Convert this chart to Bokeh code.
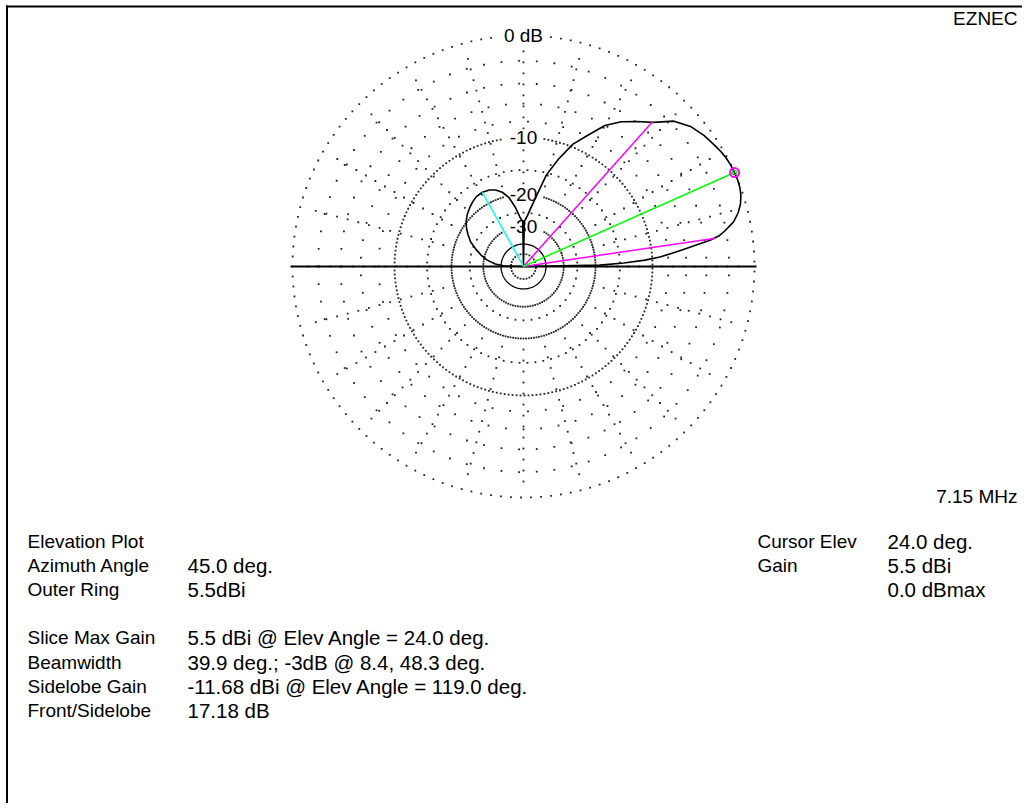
import numpy as np
from bokeh.plotting import figure
from bokeh.models import Range1d, ColumnDataSource
from bokeh.core.properties import value
from bokeh.embed import file_html
from bokeh.resources import INLINE

# ---------------- data ----------------
elev_deg = [0, 1, 2, 3, 4, 5, 6, 7, 8, 9, 10, 12, 14, 16, 18, 20, 22, 24, 26, 28,
            30, 32, 36, 40, 44, 48, 52, 56, 60, 64, 68, 72, 76, 80, 84, 86, 88, 89,
            90, 91, 92, 94, 98, 102, 106, 110, 114, 119, 124, 128, 132, 137, 142,
            146, 150, 155, 160, 165, 170, 175, 178, 180]
gain_rel_db = [-99, -19, -14.3, -11, -9, -7.6, -6.3, -5.0, -3.5, -2.6, -2.1, -1.25,
               -0.75, -0.4, -0.18, -0.05, 0, 0, -0.02, -0.08, -0.18, -0.32, -0.6,
               -1.0, -1.7, -3.0, -3.9, -4.8, -6.0, -7.9, -9.6, -12.3, -15.4, -20.5,
               -24.5, -26.3, -27.5, -28.0, -99, -28.0, -27.6, -26.5, -23.1, -20.3,
               -18.8, -17.9, -17.4, -17.18, -17.3, -17.7, -18.2, -18.9, -19.8,
               -20.8, -22.0, -23.6, -26.0, -28.5, -31.5, -36, -42, -99]
outer_ring_dbi = 5.5
gain_dbi = [g + outer_ring_dbi for g in gain_rel_db]

cursor_elev = 24.0
beam_edges = [8.4, 48.3]
sidelobe_elev = 119.0
sidelobe_dbi = -11.68

ring_db_major = [0, -10, -20, -30]
ring_db_minor = [-2, -4, -6, -8, -15, -25]
ring_db_solid = [-40]
ring_db_inner = [-50]
ring_label_text = ["0 dB", "-10", "-20", "-30"]
radial_step_deg = 15

left_labels = ["Elevation Plot", "Azimuth Angle", "Outer Ring", "", "Slice Max Gain",
               "Beamwidth", "Sidelobe Gain", "Front/Sidelobe"]
left_values = ["", "45.0 deg.", "5.5dBi", "", "5.5 dBi @ Elev Angle = 24.0 deg.",
               "39.9 deg.; -3dB @ 8.4, 48.3 deg.",
               "-11.68 dBi @ Elev Angle = 119.0 deg.", "17.18 dB"]
right_labels = ["Cursor Elev", "Gain", ""]
right_values = ["24.0 deg.", "5.5 dBi", "0.0 dBmax"]
freq_text = "7.15 MHz"
brand_text = "EZNEC"

# ---------------- layout / style ----------------
FONT = "Liberation Sans"
FS = "19px"
FS_VAL = "20.5px"
W, H = 1022, 803
CX, CY, R = 523, 266, 231


def dx(xpix):
    return (xpix - CX) / R


def dy(ypix):
    return (CY - ypix) / R


def rad(db):
    return 0.89 ** (-db / 2.0)


p = figure(width=W, height=H,
           x_range=Range1d(dx(0), dx(W)),
           y_range=Range1d(dy(H), dy(0)),
           output_backend="svg", toolbar_location=None,
           x_axis_location=None, y_axis_location=None, min_border=0)
p.grid.visible = False
p.outline_line_color = None
p.background_fill_color = "white"
p.border_fill_color = "white"

# label boxes (to clear dots behind ring labels)
label_boxes = []
for db, txt in zip(ring_db_major, ring_label_text):
    hw = (0.3 * 19 * len(txt) + 3) / R
    hh = 9 / R
    label_boxes.append((0.0, rad(db), hw, hh))


def keep(x, y):
    m = np.ones_like(x, dtype=bool)
    for (bx, by, hw, hh) in label_boxes:
        m &= ~((np.abs(x - bx) < hw) & (np.abs(y - by) < hh))
    return m


spacing = {0: 10.0, -2: 17.7, -4: 17.7, -6: 17.7, -8: 17.7, -10: 4.0,
           -15: 8.0, -20: 2.6, -25: 8.0, -30: 2.5, -50: 3.0}

dots_x, dots_y = [], []
for db in ring_db_major + ring_db_minor + ring_db_inner:
    r = rad(db)
    n = max(8, int(round(2 * np.pi * r * R / spacing[db])))
    t = np.linspace(0, 2 * np.pi, n, endpoint=False) + np.pi / n
    dots_x.append(r * np.cos(t))
    dots_y.append(r * np.sin(t))

step = 11.0 / R
r0 = rad(-20)
for a in range(0, 360, radial_step_deg):
    rs = np.arange(r0 + step, 1.0 - 0.5 * step, step)
    th = np.deg2rad(a)
    dots_x.append(rs * np.cos(th))
    dots_y.append(rs * np.sin(th))

dx_all = np.concatenate(dots_x)
dy_all = np.concatenate(dots_y)
m = keep(dx_all, dy_all)
p.scatter(dx_all[m], dy_all[m], marker="square", size=1.8,
          fill_color="#222222", line_color=None)

# solid -40 ring
tt = np.linspace(0, 2 * np.pi, 240)
for db in ring_db_solid:
    p.line(rad(db) * np.cos(tt), rad(db) * np.sin(tt), line_color="black", line_width=1.3)

# ring labels
lab_src = ColumnDataSource(dict(x=[0.0] * len(ring_db_major),
                                y=[rad(d) for d in ring_db_major],
                                t=ring_label_text))
p.text(x="x", y="y", text="t", source=lab_src, text_align="center",
       text_baseline="middle", text_font=value(FONT), text_font_size=value(FS),
       text_color="black")

# ground line
p.line([-1.0 - 2.0 / R, 1.0 + 2.0 / R], [0, 0], line_color="black", line_width=2)

# pattern
th = np.deg2rad(np.array(elev_deg, dtype=float))
rr = np.array([rad(g - outer_ring_dbi) for g in gain_dbi])
p.line(rr * np.cos(th), rr * np.sin(th), line_color="black", line_width=1.6)

# cursor / beamwidth / sidelobe lines
ca = np.deg2rad(cursor_elev)
r3 = rad(-3.0)
for e in beam_edges:
    a = np.deg2rad(e)
    p.line([0, r3 * np.cos(a)], [0, r3 * np.sin(a)], line_color="#ff00ff", line_width=1.5)
sa = np.deg2rad(sidelobe_elev)
rs_ = rad(sidelobe_dbi - outer_ring_dbi)
p.line([0, rs_ * np.cos(sa)], [0, rs_ * np.sin(sa)], line_color="#00ffff", line_width=1.5)
p.line([0, np.cos(ca)], [0, np.sin(ca)], line_color="#00ff00", line_width=1.5)
p.scatter([np.cos(ca)], [np.sin(ca)], marker="circle", size=9, fill_color=None,
          line_color="#ff00ff", line_width=2)
p.scatter([np.cos(ca)], [np.sin(ca)], marker="circle", size=5, fill_color=None,
          line_color="#00cc00", line_width=1)

# frame (left and top edges)
p.line([dx(6.5), dx(6.5)], [dy(5), dy(H)], line_color="black", line_width=2)
p.line([dx(5.5), dx(W)], [dy(6), dy(6)], line_color="black", line_width=2)

# text blocks
row0, row_step = 541, 24.1
ly = [dy(row0 + i * row_step) for i in range(len(left_labels))]
ry = [dy(row0 + i * row_step) for i in range(len(right_labels))]
lab_kw = dict(text_baseline="middle", text_font=value(FONT),
              text_font_size=value(FS), text_color="black")
val_kw = dict(text_baseline="middle", text_font=value(FONT),
              text_font_size=value(FS_VAL), text_color="black")
p.text(x=[dx(27)] * len(left_labels), y=ly, text=left_labels, text_align="left", **lab_kw)
p.text(x=[dx(187)] * len(left_values), y=ly, text=left_values, text_align="left", **val_kw)
p.text(x=[dx(757)] * len(right_labels), y=ry, text=right_labels, text_align="left", **lab_kw)
p.text(x=[dx(887)] * len(right_values), y=ry, text=right_values, text_align="left", **val_kw)
p.text(x=[dx(1017)], y=[dy(496)], text=[freq_text], text_align="right", **lab_kw)
p.text(x=[dx(1017)], y=[dy(18)], text=[brand_text], text_align="right", **lab_kw)

open("out.html", "w").write(file_html(p, INLINE))
